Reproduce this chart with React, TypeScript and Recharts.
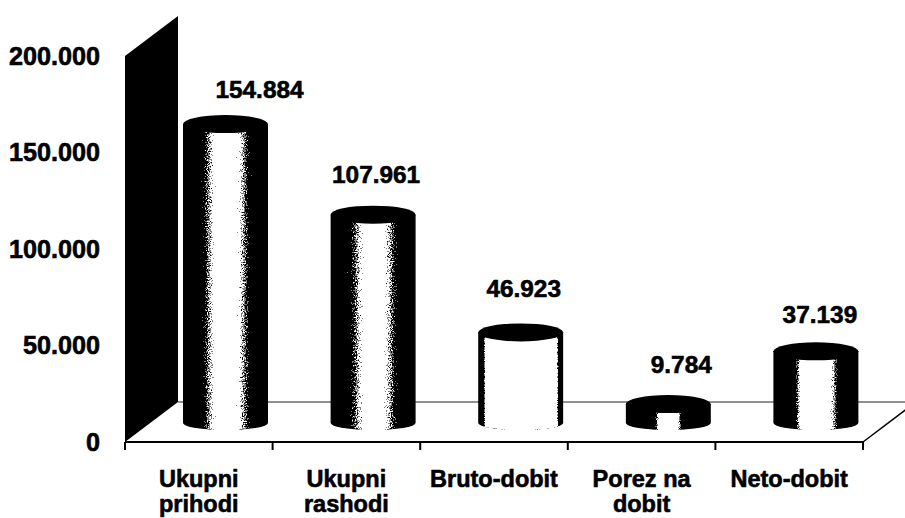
import React from 'react';
import { BarChart, Bar, XAxis, YAxis, ReferenceArea } from 'recharts';

const categories = ['Ukupni prihodi', 'Ukupni rashodi', 'Bruto-dobit', 'Porez na dobit', 'Neto-dobit'];
const values = [154884, 107961, 46923, 9784, 37139];
const yTicks = [0, 50000, 100000, 150000, 200000];

// where black turns to white and back on each cylinder, as a fraction of its width
const shadeStops = [
  [0.2, 0.4, 0.62, 0.82],
  [0.19, 0.42, 0.6, 0.82],
  [0.06, 0.09, 0.92, 0.95],
  [0.33, 0.4, 0.6, 0.67],
  [0.24, 0.34, 0.66, 0.78],
];
// the value labels do not sit exactly over their cylinders in the source
const labelShiftX = [34, 3, 3, 13, 4];
const labelShiftY = [-34, -40, -43, -39, -36];

const WIDTH = 905;
const HEIGHT = 518;
const BAND = 147.6;
const DEPTH_X = 53;
const DEPTH_Y = 40;
const LIFT_X = 27;
const LIFT_Y = 19;
const FONT = '"Liberation Sans", Arial, sans-serif';

const numberLabel = (v: number) => v.toLocaleString('de-DE');

const Room = ({ x, y, width, height }: any) => {
  const bottom = y + height;
  const right = x + width;
  return (
    <g>
      <polygon
        points={`${x},${bottom} ${x},${y} ${x + DEPTH_X},${y - DEPTH_Y} ${x + DEPTH_X},${bottom - DEPTH_Y}`}
        fill="#000"
      />
      <line x1={x + DEPTH_X} y1={bottom - DEPTH_Y} x2={WIDTH} y2={bottom - DEPTH_Y} stroke="#222" strokeWidth={1} />
      <line x1={right} y1={bottom} x2={right + DEPTH_X} y2={bottom - DEPTH_Y} stroke="#000" strokeWidth={1.5} />
    </g>
  );
};

const Cylinder = ({ x, y, width, height, index }: any) => {
  const left = x + LIFT_X;
  const right = left + width;
  const top = y - LIFT_Y;
  const base = y + height - LIFT_Y;
  const rx = width / 2;
  return (
    <g>
      <path
        d={`M${left},${top} L${left},${base} A${rx},7 0 0 0 ${right},${base} L${right},${top} Z`}
        fill={`url(#shade${index})`}
        filter="url(#grain)"
      />
      <ellipse cx={left + rx} cy={top} rx={rx} ry={9} fill="#000" />
    </g>
  );
};

const ValueLabel = ({ x, y, width, index, value }: any) => (
  <text
    x={x + width / 2 + LIFT_X + labelShiftX[index]}
    y={y - LIFT_Y + labelShiftY[index] + 8}
    textAnchor="middle"
    fontFamily={FONT}
    fontWeight="bold"
    fontSize={24.4}
    fill="#000"
    stroke="#000"
    strokeWidth={0.6}
  >
    {numberLabel(value)}
  </text>
);

// last word of a two-word name goes on the second line
const splitName = (name: string) => {
  const at = name.lastIndexOf(' ');
  return at < 0 ? [name] : [name.slice(0, at), name.slice(at + 1)];
};

const CategoryTick = ({ x, payload, index }: any) => (
  <g>
    <line x1={x - BAND / 2} y1={442} x2={x - BAND / 2} y2={450} stroke="#000" strokeWidth={2} />
    {index === categories.length - 1 && (
      <line x1={x + BAND / 2} y1={442} x2={x + BAND / 2} y2={450} stroke="#000" strokeWidth={2} />
    )}
    <text
      textAnchor="middle"
      fontFamily={FONT}
      fontWeight="bold"
      fontSize={23.5}
      fill="#000"
      stroke="#000"
      strokeWidth={0.6}
    >
      {splitName(payload.value).map((line, i) => (
        <tspan key={i} x={x} y={487 + i * 25}>
          {line}
        </tspan>
      ))}
    </text>
  </g>
);

const tableData = categories.map((name, i) => ({ name, value: values[i] }));

export default function App() {
  return (
    <div style={{ position: 'absolute', left: 0, top: 0, width: WIDTH, height: HEIGHT, background: '#fff' }}>
      <BarChart
        width={WIDTH}
        height={HEIGHT}
        data={tableData}
        margin={{ top: 56, right: 42, bottom: 0, left: 25 }}
      >
        <defs>
          {shadeStops.map((s, i) => (
            <linearGradient id={`shade${i}`} key={i} x1="0" y1="0" x2="1" y2="0">
              <stop offset={0} stopColor="#000" />
              <stop offset={s[0]} stopColor="#000" />
              <stop offset={s[1]} stopColor="#fff" />
              <stop offset={s[2]} stopColor="#fff" />
              <stop offset={s[3]} stopColor="#000" />
              <stop offset={1} stopColor="#000" />
            </linearGradient>
          ))}
          {/* scanned halftone look: noise pushes the grey part of the shading to black or white */}
          <filter id="grain" x="0" y="0" width="1" height="1" colorInterpolationFilters="sRGB">
            <feTurbulence type="fractalNoise" baseFrequency="0.8" numOctaves={2} seed={4} result="noise" />
            <feColorMatrix
              in="noise"
              type="matrix"
              values="1 0 0 0 0 1 0 0 0 0 1 0 0 0 0 0 0 0 0 1"
              result="greyNoise"
            />
            <feComposite in="SourceGraphic" in2="greyNoise" operator="arithmetic" k1={0} k2={1} k3={1.1} k4={-0.55} result="mixed" />
            <feComponentTransfer in="mixed" result="hard">
              <feFuncR type="discrete" tableValues="0 0 0 0.5 1 1 1" />
              <feFuncG type="discrete" tableValues="0 0 0 0.5 1 1 1" />
              <feFuncB type="discrete" tableValues="0 0 0 0.5 1 1 1" />
            </feComponentTransfer>
            <feComposite in="hard" in2="SourceAlpha" operator="in" />
          </filter>
        </defs>
        <XAxis
          dataKey="name"
          height={76}
          interval={0}
          axisLine={{ stroke: '#000', strokeWidth: 2 }}
          tickLine={false}
          tick={<CategoryTick />}
        />
        <YAxis
          width={100}
          domain={[0, 200000]}
          ticks={yTicks}
          tickFormatter={numberLabel}
          axisLine={false}
          tickLine={false}
          tickMargin={0}
          tickSize={0}
          tick={{ fontFamily: FONT, fontWeight: 'bold', fontSize: 25.2, fill: '#000', stroke: '#000', strokeWidth: 0.6, dx: -25 }}
        />
        <ReferenceArea y1={0} y2={200000} ifOverflow="visible" shape={<Room />} />
        <Bar
          dataKey="value"
          barSize={85}
          isAnimationActive={false}
          shape={<Cylinder />}
          label={<ValueLabel />}
        />
      </BarChart>
    </div>
  );
}
